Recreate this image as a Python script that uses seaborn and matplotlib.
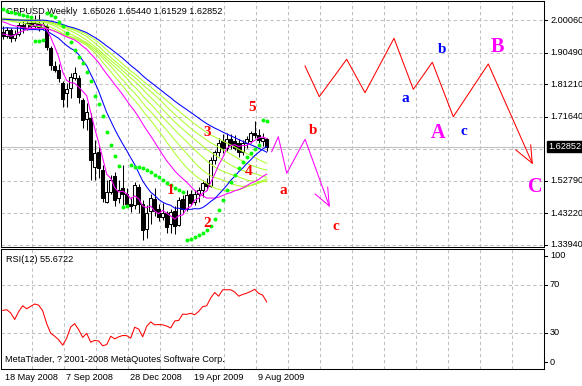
import numpy as np
import pandas as pd
import matplotlib
matplotlib.use("Agg")
import matplotlib.pyplot as plt
import matplotlib.transforms as mtransforms
from matplotlib import font_manager
import seaborn as sns

# ---------------- data ----------------
symbol = "GBPUSD"
timeframe = "Weekly"
date_labels = ["18 May 2008", "7 Sep 2008", "28 Dec 2008", "19 Apr 2009", "9 Aug 2009"]

opens = [1.968, 1.955, 1.972, 1.950, 1.962, 1.988, 1.978, 1.992, 1.985, 1.994, 1.980,
         1.985, 1.918, 1.866, 1.855, 1.817, 1.786, 1.801, 1.831, 1.831, 1.766, 1.710,
         1.713, 1.568, 1.612, 1.560, 1.465, 1.495, 1.542, 1.477, 1.505, 1.490, 1.458,
         1.455, 1.508, 1.460, 1.385, 1.440, 1.475, 1.445, 1.420, 1.433, 1.400, 1.440,
         1.398, 1.475, 1.448, 1.488, 1.465, 1.488, 1.500, 1.522, 1.512, 1.590, 1.612,
         1.645, 1.625, 1.650, 1.645, 1.640, 1.612, 1.638, 1.645, 1.668, 1.662, 1.645,
         1.65026]
highs = [1.985, 1.980, 1.978, 1.972, 1.995, 1.998, 2.005, 2.010, 2.016, 2.021, 1.996,
         1.990, 1.925, 1.880, 1.872, 1.822, 1.815, 1.846, 1.863, 1.840, 1.772, 1.757,
         1.728, 1.648, 1.627, 1.575, 1.530, 1.545, 1.555, 1.530, 1.574, 1.505, 1.480,
         1.525, 1.518, 1.470, 1.455, 1.490, 1.505, 1.460, 1.463, 1.440, 1.445, 1.452,
         1.480, 1.485, 1.500, 1.500, 1.500, 1.508, 1.530, 1.535, 1.598, 1.618, 1.655,
         1.665, 1.668, 1.665, 1.662, 1.650, 1.648, 1.660, 1.675, 1.705, 1.680, 1.668,
         1.65440]
lows = [1.946, 1.950, 1.937, 1.940, 1.955, 1.965, 1.972, 1.978, 1.975, 1.970, 1.972,
        1.915, 1.855, 1.848, 1.818, 1.745, 1.745, 1.772, 1.825, 1.757, 1.684, 1.678,
        1.530, 1.530, 1.536, 1.465, 1.462, 1.490, 1.452, 1.462, 1.456, 1.456, 1.435,
        1.445, 1.432, 1.353, 1.360, 1.400, 1.425, 1.410, 1.412, 1.373, 1.375, 1.372,
        1.395, 1.430, 1.440, 1.455, 1.455, 1.465, 1.480, 1.500, 1.508, 1.578, 1.600,
        1.610, 1.615, 1.622, 1.618, 1.598, 1.605, 1.625, 1.638, 1.655, 1.638, 1.630,
        1.61529]
closes = [1.955, 1.972, 1.948, 1.962, 1.988, 1.978, 1.992, 1.985, 1.994, 1.980, 1.990,
          1.922, 1.868, 1.855, 1.830, 1.768, 1.798, 1.834, 1.846, 1.775, 1.707, 1.731,
          1.589, 1.610, 1.565, 1.477, 1.494, 1.530, 1.471, 1.500, 1.490, 1.458, 1.453,
          1.515, 1.458, 1.383, 1.432, 1.478, 1.440, 1.420, 1.433, 1.390, 1.435, 1.395,
          1.470, 1.445, 1.485, 1.462, 1.490, 1.500, 1.522, 1.512, 1.590, 1.612, 1.640,
          1.625, 1.650, 1.632, 1.625, 1.612, 1.640, 1.652, 1.668, 1.662, 1.648, 1.655,
          1.62852]

# weekly closes before the visible window (only used to warm up the averages)
warmup_closes = [1.980, 1.981, 1.970, 1.977, 1.996, 2.007, 2.013, 2.030, 2.050, 2.032,
                 2.037, 2.017, 1.977, 2.008, 2.018, 2.025, 2.008, 2.003, 2.043, 2.038,
                 2.030, 2.043, 2.055, 2.090, 2.097, 2.056, 2.063, 2.057, 2.030, 2.027,
                 1.985, 1.985, 1.973, 1.960, 1.962, 1.991, 1.986, 1.946, 1.962, 1.968,
                 1.987, 2.012, 2.030, 1.984, 1.990, 1.994, 1.971, 1.995, 1.981, 1.970,
                 1.947, 1.950]

sar_values = [2.0336, 2.0295, 2.0266, 2.0236, 2.0198, 2.0168, 2.0139, 2.0118, 1.9387,
              1.9401, 1.9416, 2.0218, 2.0168, 2.0100, 1.9971, 1.9844, 1.9628, 1.9363,
              1.9136, 1.8920, 1.8743, 1.8478, 1.8221, 1.7779, 1.7543, 1.7174, 1.6717,
              1.6333, 1.6009, 1.5714, 1.4513, 1.4534, 1.5743, 1.5693, 1.5675, 1.5646,
              1.5596, 1.5522, 1.5434, 1.5375, 1.5301, 1.5221, 1.5139, 1.5074, 1.5006,
              1.4947, 1.3531, 1.3569, 1.3628, 1.3678, 1.3746, 1.3826, 1.3944, 1.4141,
              1.4416, 1.4711, 1.5006, 1.5251, 1.5448, 1.5646, 1.5841, 1.5988, 1.6106,
              1.6206, 1.6333, 1.7071, 1.7032]

rsi_values = [48.6, 49.2, 46.5, 41.0, 47.7, 52.5, 50.0, 52.0, 54.0, 53.0, 48.3, 37.5,
              29.5, 27.0, 24.0, 19.5, 25.4, 34.8, 37.5, 32.4, 26.0, 29.4, 22.0, 23.5,
              23.0, 19.0, 20.0, 27.0, 24.8, 26.5, 27.6, 27.5, 25.4, 34.5, 33.0, 26.5,
              35.3, 39.0, 36.5, 36.8, 36.5, 35.5, 33.9, 39.8, 40.2, 45.5, 45.3, 46.2,
              45.0, 47.8, 51.8, 52.5, 59.0, 63.6, 60.5, 65.9, 65.9, 65.9, 64.0, 60.5,
              62.0, 63.0, 64.5, 66.3, 62.8, 61.4, 55.7]
rsi_period = 12
rsi_last = "55.6722"

price_ticks = [2.00060, 1.90490, 1.81210, 1.71640, 1.52790, 1.43220, 1.33940]
price_grid_extra = [1.62070]
last_price = 1.62852
rsi_levels = [70, 30]
rsi_labels = [100, 70, 30, 0]

# moving averages (periods)
ma_fast_magenta = 5
ma_fast_blue = 16
ma_mid_magenta = 30
ma_ribbon = [35, 39, 43, 47, 51, 55]
ma_slow_blue = 60

# Elliott-wave drawing objects (bar index, price)
wave_small_bars = [67.25, 68.9, 71.0, 75.6, 81.65]
wave_small_prices = [1.6136, 1.6578, 1.5498, 1.6501, 1.4534]
wave_small_arrow_bars = [78.1, 81.65, 81.25]
wave_small_arrow_prices = [1.4888, 1.4534, 1.5086]
wave_big_bars = [75.575, 79.15, 86.0, 90.575, 97.825, 102.65, 107.4, 112.65, 121.4, 132.4]
wave_big_prices = [1.8664, 1.7758, 1.8861, 1.7876, 1.9481, 1.7976, 1.8773, 1.7168, 1.8723, 1.5794]
wave_big_arrow_bars = [128.3, 132.4, 132.0]
wave_big_arrow_prices = [1.6186, 1.5794, 1.6333]

wave_labels = ["5", "3", "1", "2", "4", "a", "b", "c", "a", "b", "c", "A", "B", "C"]
wave_label_bars = [62.25, 51.15, 42.0, 51.0, 61.4, 70.15, 77.65, 83.3, 100.75, 109.9, 115.4, 108.75, 123.65, 133.1]
wave_label_prices = [1.7445, 1.6708, 1.4998, 1.4024, 1.5546, 1.4985, 1.6755, 1.3923, 1.7711, 1.9136, 1.6726, 1.6678, 1.9233, 1.5092]
wave_label_kind = ["r", "r", "r", "r", "r", "r", "r", "r", "b", "b", "b", "M", "M", "M"]

# ---------------- style ----------------
plt.rcParams["lines.scale_dashes"] = False
avail = {f.name for f in font_manager.fontManager.ttflist}
if "Liberation Sans Narrow" in avail:
    UI_FONT, UI_SIZE = "Liberation Sans Narrow", 8.0
else:
    UI_FONT, UI_SIZE = "Liberation Sans", 6.6
SERIF = "Liberation Serif"

W, H = 582, 386
def fx(p):
    return p / W
def fy(p):
    return 1 - p / H

GRID = "#C0C0C0"
DASH = (0, (2.4, 2.0))
LW = 0.75

fig = plt.figure(figsize=(W / 100, H / 100), dpi=100)
fig.patch.set_facecolor("white")
ax = fig.add_axes([fx(1), fy(247), (544 - 1) / W, (247 - 1) / H])
ax2 = fig.add_axes([fx(1), fy(369), (544 - 1) / W, (369 - 249) / H])

n = len(closes)
idx = np.arange(n)
o = np.array(opens); h = np.array(highs); l = np.array(lows); c = np.array(closes)

XL = (-0.425, 135.325)
for a in (ax, ax2):
    a.set_xlim(*XL)
    a.set_xticks([]); a.set_yticks([])
    a.set_facecolor("white")
    for s in a.spines.values():
        s.set_color("black"); s.set_linewidth(LW)
ax.set_ylim(1.3324, 2.0581)
ax2.set_ylim(-0.42, 100)

# grid
grid_bars = [8 * k - 0.75 for k in range(1, 17) if 8 * k - 0.75 < XL[1]]
for gb in grid_bars:
    for a in (ax, ax2):
        a.axvline(gb, color=GRID, lw=LW, ls=DASH, zorder=0)
for v in price_ticks + price_grid_extra:
    ax.axhline(v, color=GRID, lw=LW, ls=DASH, zorder=0)
ax.axhline(last_price, color=GRID, lw=LW, zorder=0.5)
for v in rsi_levels:
    ax2.axhline(v, color=GRID, lw=LW, ls=DASH, zorder=0)

# candles
ax.vlines(idx, l, h, color="black", lw=LW, zorder=2)
up = c >= o
ax.bar(idx[up], (c - o)[up], bottom=o[up], width=0.72, facecolor="white",
       edgecolor="black", linewidth=LW, zorder=3)
ax.bar(idx[~up], (o - c)[~up], bottom=c[~up], width=0.72, facecolor="black",
       edgecolor="black", linewidth=LW, zorder=3)

# moving averages
full = pd.Series(warmup_closes + closes, dtype=float)
nw = len(warmup_closes)
def sma(p):
    return full.rolling(p, min_periods=1).mean().iloc[nw:].to_numpy()

for p in ma_ribbon:
    sns.lineplot(x=idx, y=sma(p), ax=ax, color="#ADFF2F", linewidth=LW,
                 estimator=None, sort=False, legend=False, zorder=4)
sns.lineplot(x=idx, y=sma(ma_slow_blue), ax=ax, color="#0000FF", linewidth=LW,
             estimator=None, sort=False, legend=False, zorder=4)
sns.lineplot(x=idx, y=sma(ma_mid_magenta), ax=ax, color="#FF00FF", linewidth=LW,
             estimator=None, sort=False, legend=False, zorder=4)
sns.lineplot(x=idx, y=sma(ma_fast_blue), ax=ax, color="#0000FF", linewidth=LW,
             estimator=None, sort=False, legend=False, zorder=4)
sns.lineplot(x=idx, y=sma(ma_fast_magenta), ax=ax, color="#FF00FF", linewidth=LW,
             estimator=None, sort=False, legend=False, zorder=4)

# parabolic SAR
sns.scatterplot(x=idx, y=sar_values, ax=ax, color="#00FF00", s=8, marker="o",
                linewidth=0, legend=False, zorder=6)

# wave drawings
sns.lineplot(x=wave_small_bars, y=wave_small_prices, ax=ax, color="#FF00FF", linewidth=LW,
             estimator=None, sort=False, legend=False, zorder=7)
sns.lineplot(x=wave_small_arrow_bars, y=wave_small_arrow_prices, ax=ax, color="#FF00FF",
             linewidth=LW, estimator=None, sort=False, legend=False, zorder=7)
sns.lineplot(x=wave_big_bars, y=wave_big_prices, ax=ax, color="#FF0000", linewidth=LW,
             estimator=None, sort=False, legend=False, zorder=7)
sns.lineplot(x=wave_big_arrow_bars, y=wave_big_arrow_prices, ax=ax, color="#FF0000",
             linewidth=LW, estimator=None, sort=False, legend=False, zorder=7)

kind_style = {"r": ("#FF0000", 11), "b": ("#0000FF", 11), "M": ("#FF00FF", 14.5)}
for lab, b, p, k in zip(wave_labels, wave_label_bars, wave_label_prices, wave_label_kind):
    col, sz = kind_style[k]
    ax.text(b, p, lab, color=col, fontsize=sz, fontfamily=SERIF, fontweight="bold",
            ha="center", va="center", zorder=8)

# header
ax.text(fx(6), fy(11), f"{symbol},{timeframe}  {opens[-1]:.5f} {highs[-1]:.5f} {lows[-1]:.5f} {closes[-1]:.5f}",
        transform=fig.transFigure, fontfamily=UI_FONT, fontsize=UI_SIZE, color="black",
        ha="left", va="center", zorder=1, clip_on=False)

# right price scale
trans = mtransforms.blended_transform_factory(ax.transAxes, ax.transData)
xo = 1 + 6 / 543
for v in price_ticks:
    ax.plot([1, 1 + 3 / 543], [v, v], transform=trans, color="black", lw=LW, clip_on=False)
    ax.text(xo, v, f"{v:.5f}", transform=trans, fontfamily=UI_FONT, fontsize=UI_SIZE,
            ha="left", va="center", clip_on=False)
ax.text(1 + 4 / 543, last_price, f"{last_price:.5f}", transform=trans, fontfamily=UI_FONT,
        fontsize=UI_SIZE, color="white", ha="left", va="center", clip_on=False,
        bbox=dict(boxstyle="square,pad=0.12", facecolor="black", edgecolor="black"))

# RSI panel
sns.lineplot(x=idx, y=rsi_values, ax=ax2, color="#FF0000", linewidth=LW,
             estimator=None, sort=False, legend=False, zorder=3)
trans2 = mtransforms.blended_transform_factory(ax2.transAxes, ax2.transData)
rsi_label_pos = {100: 94.5, 70: 70, 30: 30, 0: 5.2}
for v in rsi_labels:
    yv = rsi_label_pos[v]
    ax2.plot([1, 1 + 3 / 543], [yv, yv], transform=trans2, color="black", lw=LW, clip_on=False)
    ax2.text(xo, yv, f"{v}", transform=trans2, fontfamily=UI_FONT, fontsize=UI_SIZE,
             ha="left", va="center", clip_on=False)
ax2.text(fx(6), fy(259), f"RSI({rsi_period}) {rsi_last}", transform=fig.transFigure,
         fontfamily=UI_FONT, fontsize=UI_SIZE, ha="left", va="center")
ax2.text(fx(5), fy(360), "MetaTrader, ? 2001-2008 MetaQuotes Software Corp.",
         transform=fig.transFigure, fontfamily=UI_FONT, fontsize=UI_SIZE, ha="left", va="center")

# date labels
label_bars = [16 * k - 0.75 for k in range(len(date_labels))]
transd = mtransforms.blended_transform_factory(ax2.transData, fig.transFigure)
for lab, b in zip(date_labels, label_bars):
    bx = max(b, 0.0) + 0.5
    ax2.text(bx, fy(377), lab, transform=transd, fontfamily=UI_FONT, fontsize=UI_SIZE,
             ha="left", va="center", clip_on=False)

fig.savefig("out.png", dpi=100, facecolor="white")
